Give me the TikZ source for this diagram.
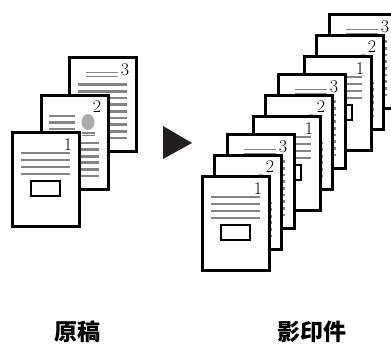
\documentclass[tikz,border=0pt]{standalone}
\usepackage{fontspec}
\newfontfamily\cjk{Noto Sans CJK SC}
\definecolor{ink}{HTML}{231F20}
\definecolor{txtln}{HTML}{858585}
\definecolor{blob}{HTML}{ABABAB}
\tikzset{
  pg/.style={draw=black,fill=white,line width=3pt},
  ln/.style={draw=txtln,line width=2.7pt},
  hair/.style={draw=txtln,line width=1.3pt},
  num/.style={font=\fontsize{18}{18}\selectfont,inner sep=0pt},
  lbl/.style={font=\cjk\bfseries\fontsize{23}{23}\selectfont,inner sep=0pt},
  % page 1: text block and a framed picture
  pgone/.pic={
    \filldraw[pg] (0,0) rectangle (67,94);
    \node[num] at (56,12) {1};
    \foreach \y in {20,27,34,41} \draw[ln] (9,\y) -- (58,\y);
    \draw[line width=1.4pt] (19,48) rectangle (48,63);
  },
  % page 2: photo next to a short block, then body text
  pgtwo/.pic={
    \filldraw[pg] (0,0) rectangle (67,94);
    \node[num] at (56,11) {2};
    \foreach \y in {20,26.5,33} \draw[ln] (8,\y) -- (34,\y);
    \fill[blob] (47,26) ellipse [x radius=6.5pt,y radius=8pt];
    \foreach \y in {37,39.5} \draw[hair] (41,\y) -- (54,\y);
    \foreach \y in {47,53.6,...,80.5} \draw[ln] (8,\y) -- (58,\y);
  },
  % page 3: heading and full text
  pgthree/.pic={
    \filldraw[pg] (0,0) rectangle (67,94);
    \node[num] at (56,12) {3};
    \foreach \y in {14.5,18.5} \draw[hair] (17,\y) -- (49,\y);
    \foreach \y in {26.5,33.2,...,81} \draw[ln] (9,\y) -- (58,\y);
  },
}
\begin{document}
\begin{tikzpicture}[x=1pt,y=-1pt]
\useasboundingbox (0,0) rectangle (391,347);
% originals
\pic at (69,58) {pgthree};
\pic at (41,96) {pgtwo};
\pic at (12,133) {pgone};
% arrow
\fill[ink] (163,126) -- (163,159) -- (192,143) -- cycle;
% copies, three sets back to front
\foreach \s in {2,1,0}{
  \pic at ({227+51*\s},{135-60*\s}) {pgthree};
  \pic at ({214+51*\s},{156-60*\s}) {pgtwo};
  \pic at ({202+51*\s},{177-60*\s}) {pgone};
}
% captions
\node[lbl] (orig) at (77,332) {原稿};
\node[lbl] (copies) at (312,332) {影印件};
\end{tikzpicture}
\end{document}
